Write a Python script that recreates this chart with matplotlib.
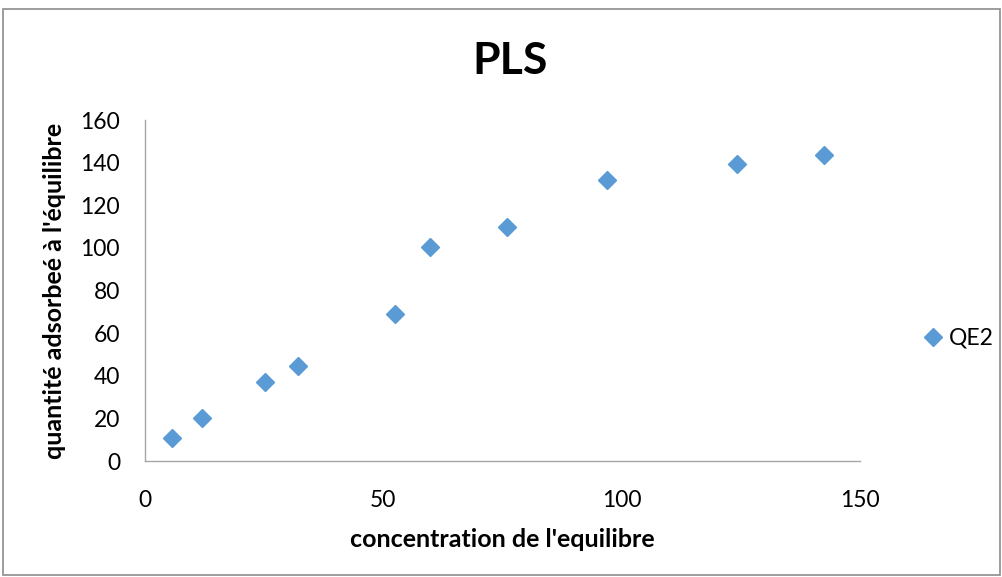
import matplotlib.pyplot as plt
from matplotlib.patches import Rectangle

# equilibrium data
conc = [5.7, 12.0, 25.2, 32.1, 52.4, 59.8, 75.9, 96.9, 124.2, 142.4]
qe2 = [10.8, 20.1, 37.0, 44.4, 68.8, 100.6, 109.9, 131.9, 139.4, 143.6]
xticks = [0, 50, 100, 150]
yticks = [0, 20, 40, 60, 80, 100, 120, 140, 160]

plt.rcParams['font.family'] = ['Lato', 'DejaVu Sans']

fig = plt.figure(figsize=(10.03, 5.77), dpi=100)
fig.patches.append(Rectangle((0.003, 0.003), 0.994, 0.982, transform=fig.transFigure,
                             fill=False, edgecolor='#8c8c8c', linewidth=1.2))

ax = fig.add_axes([0.1446, 0.201, 0.7128, 0.591])
ax.plot(conc, qe2, linestyle='none', marker='D', markersize=9.5,
        color='#5B9BD5', label='QE2')

ax.set_xlim(0, 150)
ax.set_ylim(0, 160)
ax.set_xticks(xticks)
ax.set_yticks(yticks)
ax.tick_params(length=0, labelsize=16.5)
ax.tick_params(axis='y', pad=18)
ax.tick_params(axis='x', pad=21)
for s in ['top', 'right']:
    ax.spines[s].set_visible(False)
for s in ['left', 'bottom']:
    ax.spines[s].set_color('#a6a6a6')
    ax.spines[s].set_linewidth(1.0)

ax.set_xlabel("concentration de l'equilibre", fontsize=18, fontweight='bold', labelpad=12)
ax.set_ylabel("quantité adsorbeé à l'équilibre", fontsize=18, fontweight='bold', labelpad=10)
fig.text(0.509, 0.895, 'PLS', ha='center', va='center', fontsize=32, fontweight='bold')

ax.legend(loc='center left', bbox_to_anchor=(1.08, 0.36), frameon=False, fontsize=16.5,
          handlelength=0.6, handletextpad=0.4, borderaxespad=0)

fig.savefig('out.png', dpi=100)
